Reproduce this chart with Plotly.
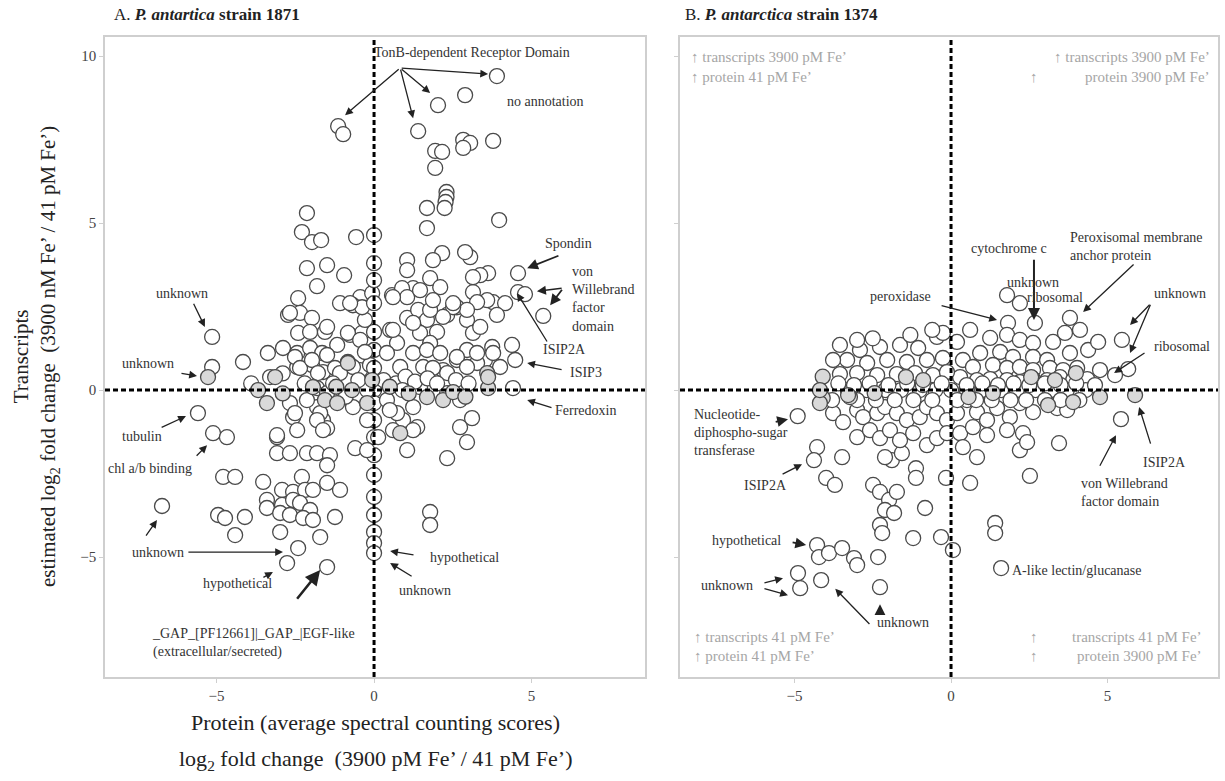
import plotly.graph_objects as go

# ---------------- data (log2 fold changes: protein x, transcripts y) ----------------
A_open_points = [
    (3.90, 9.40), (2.89, 8.83), (2.03, 8.53), (-1.14, 7.90), (-0.98, 7.66), (1.40, 7.75),
    (1.94, 7.16), (2.16, 7.13), (1.94, 6.65), (2.83, 7.49), (3.05, 7.40), (2.83, 7.25), (3.78, 7.46),
    (2.30, 5.93), (2.30, 5.78), (2.27, 5.63), (2.24, 5.45), (1.68, 5.45), (1.68, 4.85), (3.97, 5.09),
    (4.57, 3.50), (4.57, 2.93), (4.79, 2.87), (5.37, 2.22), (4.38, 1.35), (4.48, 0.90), (4.41, 0.06),
    (3.52, 0.90), (3.75, 1.29), (3.14, 2.93), (3.62, 3.50), (3.37, 3.44), (3.05, 3.98), (2.89, 4.13),
    (3.78, 2.63), (4.16, 2.60), (3.59, 2.69), (3.27, 2.63), (2.16, 4.10), (1.87, 3.89), (1.05, 3.89), (1.05, 3.59),
    (-2.13, 5.30), (-2.29, 4.73), (-1.97, 4.43), (-1.68, 4.49), (-0.57, 4.58), (-2.13, 3.65), (-1.49, 3.74),
    (-0.95, 3.44), (-1.81, 3.11), (1.24, 3.05), (-2.41, 2.75), (-1.08, 2.60), (-0.44, 2.78), (-0.06, 2.90),
    (0.57, 2.84), (0.89, 3.05), (3.14, 3.38), (1.78, 3.35), (2.10, 3.08),
    (-5.14, 1.59), (-5.14, 0.69), (-4.16, 0.84), (-3.37, 1.11),
    (-2.73, 2.25), (-2.35, 2.31), (-1.97, 2.16), (-2.41, 1.71), (-2.03, 1.74), (-1.56, 1.74), (-2.89, 1.26),
    (-2.44, 1.11), (-2.03, 1.26), (-1.65, 1.11), (-1.17, 1.35), (-0.76, 1.65), (-0.38, 1.71), (-0.29, 2.10),
    (-2.44, 0.69), (-1.97, 0.75), (-1.62, 0.54), (-1.24, 0.66), (-0.83, 0.84), (-0.44, 0.60), (-0.13, 0.75),
    (-0.67, 2.54), (-0.38, 2.48),
    (0.51, 1.80), (1.05, 2.16), (1.40, 2.40), (1.68, 2.10), (2.00, 1.74), (2.32, 2.25), (2.63, 2.48),
    (2.95, 2.10), (3.14, 1.71), (1.46, 1.71), (1.78, 1.41), (1.24, 1.11), (0.83, 0.69), (1.56, 0.69),
    (2.19, 0.60), (2.63, 0.90), (2.95, 1.20), (3.27, 0.81), (0.73, 1.41),
    (0, 4.64), (0, 3.80), (0, 3.29), (0, 2.60), (0, 1.74), (0, 1.20), (0, 0.66), (0, 0.0), (0, -0.39),
    (0, -0.90), (0, -1.41), (0, -1.95), (0, -2.54), (0, -3.20), (0, -3.74), (0, -4.25), (0, -4.58), (0, -4.88),
    (-5.59, -0.69), (-5.11, -1.29), (-4.67, -1.41), (-4.79, -2.60), (-4.41, -2.60), (-6.73, -3.47),
    (-4.95, -3.74), (-4.73, -3.83), (-4.10, -3.80), (-4.41, -4.34), (-3.08, -1.41), (-2.57, -0.81),
    (-2.44, -1.20), (-1.81, -0.51), (-1.62, -0.90), (-1.49, -1.14), (-3.08, -1.89), (-2.67, -1.89),
    (-2.13, -1.89), (-1.81, -1.89), (-1.40, -1.95), (-1.49, -2.25), (-0.60, -1.74), (-0.22, -1.80),
    (0.13, -1.41), (-3.52, -2.75), (-2.92, -2.99), (-2.57, -3.05), (-2.29, -2.60), (-2.19, -2.99),
    (-1.94, -2.99), (-1.49, -2.78), (-1.08, -2.99), (-3.40, -3.29), (-2.92, -3.44), (-2.57, -3.29),
    (-2.35, -3.38), (-2.03, -3.59), (-3.40, -3.53), (-2.98, -3.68), (-2.67, -3.74), (-2.25, -3.83),
    (-1.94, -3.89), (-1.24, -3.80), (-2.98, -4.25), (-1.71, -4.40), (-2.41, -4.73), (-2.76, -5.18),
    (-1.49, -5.30), (0.92, -0.90), (1.37, -1.11), (1.05, -1.80), (2.32, -2.04), (2.73, -1.11),
    (3.11, -0.84), (2.95, -1.56), (1.78, -3.65), (1.78, -4.04),
    (-2.67, -0.39), (-2.51, -0.69), (-2.13, -0.30), (-1.81, 0.06), (-1.71, -0.69), (-1.49, -0.09),
    (-0.67, -0.51), (-0.22, 0.0), (0.41, -0.30), (0.73, -0.69), (1.24, -0.51), (1.46, 0.09),
    (2.32, -0.09), (2.73, -0.30), (-3.08, -1.35), (-1.81, -0.90), (-1.62, -1.20), (-0.22, -0.90),
    (0.60, -1.20), (1.24, -1.20), (-3.30, 0.39), (-2.51, 0.99), (-2.35, 0.66), (-1.97, 0.90),
    (-1.49, 1.05), (-0.83, 1.71), (-0.44, 1.50), (-0.67, 0.69), (-1.08, 0.51), (-1.78, 0.51),
    (-0.29, 1.14), (0.41, 1.11), (0.60, 1.80), (1.68, 1.20), (1.87, 0.66), (2.10, 1.11), (2.32, 0.51),
    (2.63, 0.99), (2.95, 0.69), (3.27, 1.11), (3.37, 1.89), (2.95, 2.40), (2.51, 2.48), (2.19, 2.19),
    (1.78, 2.40), (1.24, 2.01), (1.05, 2.78), (0.60, 2.78), (1.46, 2.99), (1.87, 2.69), (2.51, 2.60),
    (3.90, 2.25), (3.78, 1.11), (4.00, 0.69), (-0.76, 2.60), (-1.49, 1.89), (-2.67, 2.31),
    (0.30, 0.30), (0.70, 0.20), (1.00, 0.40), (1.30, 0.25), (1.70, 0.35), (2.00, 0.20), (2.60, 0.30),
    (3.00, 0.20), (0.50, -0.60), (0.90, 0.00), (-3.90, 0.20), (-2.90, 0.50), (-2.20, 0.20),
    (-1.30, 0.20), (-0.90, -0.20), (-0.50, 0.30),
]
A_gray_points = [
    (-5.27, 0.39), (-3.68, 0.0), (-3.14, 0.39), (-3.40, -0.39), (-1.94, 0.09), (-1.56, -0.30),
    (-1.17, -0.39), (-0.83, 0.81), (-0.70, 0.0), (-0.22, -0.39), (-0.06, 0.30), (0.83, -1.29),
    (1.68, -0.21), (2.19, -0.30), (2.51, -0.06), (3.59, 0.51), (3.62, 0.06), (3.62, 0.39),
    (-2.90, -0.10), (-1.20, 0.10), (1.10, -0.10), (2.90, -0.20), (0.50, 0.10),
]

B_open_points = [
    (-4.90, -0.78), (-4.28, -1.71), (-4.38, -2.10), (-3.48, -2.01), (-3.99, -2.63), (-3.71, -2.84),
    (-2.49, -2.84), (-2.27, -3.05), (-1.98, -3.29), (-1.73, -3.05), (-2.11, -3.59), (-1.82, -3.68),
    (-2.27, -4.04), (-2.20, -4.28), (-1.12, -2.34), (-1.12, -2.63), (-1.89, -2.10), (-1.57, -1.89),
    (-0.16, -2.63), (-0.83, -3.53), (-1.21, -4.43), (-0.32, -4.40), (0.06, -4.79), (0.61, -2.78),
    (1.41, -3.98), (1.41, -4.28), (1.60, -5.33), (2.52, -2.57), (3.45, -1.59), (5.43, -0.87),
    (-4.28, -4.64), (-4.22, -5.00), (-3.90, -4.88), (-3.48, -4.73), (-3.10, -5.03), (-3.00, -5.24),
    (-2.33, -5.00), (-4.89, -5.48), (-4.82, -5.93), (-4.15, -5.69), (-2.27, -5.90),
    (1.82, 2.01), (2.68, 2.01), (1.79, 2.84), (2.20, 2.60), (3.80, 2.16), (4.12, 1.80), (3.64, 1.71),
    (3.26, 1.44), (4.38, 1.20), (4.70, 1.44), (5.46, 1.50), (5.66, 0.63), (5.24, 0.45), (4.76, 0.60),
    (3.80, 1.11), (0.61, 1.80), (1.25, 1.56), (1.79, 1.65), (2.20, 1.50), (2.62, 1.41), (0.93, 1.11),
    (1.57, 1.14), (1.98, 0.99), (2.62, 0.99), (3.07, 0.90), (0.38, 0.90), (0.70, 0.69), (1.34, 0.75),
    (1.79, 0.66), (2.20, 0.69), (2.62, 0.60), (3.16, 0.66), (3.58, 0.60), (4.03, 0.66),
    (0.29, 0.39), (0.83, 0.30), (1.25, 0.33), (1.79, 0.30), (2.20, 0.24), (2.62, 0.33), (3.07, 0.30),
    (3.48, 0.39), (3.90, 0.30), (4.35, 0.33),
    (-3.55, 1.35), (-2.91, 1.20), (-2.27, 1.29), (-1.63, 1.35), (-1.05, 1.26), (-0.45, 1.59),
    (-0.26, 1.71), (0.19, 1.44), (-3.32, 0.90), (-2.68, 0.81), (-2.04, 0.90), (-1.41, 0.84),
    (-0.77, 0.90), (-0.26, 0.96), (-3.77, 0.90), (-3.55, 0.48), (-3.00, 0.51), (-2.36, 0.45),
    (-1.73, 0.48), (-1.15, 0.51), (-0.58, 0.45), (-0.13, 0.54), (-0.60, 1.80), (-1.30, 1.65),
    (-2.50, 1.55), (-3.00, 1.50),
    (-3.77, -0.69), (-3.45, -0.96), (-3.00, -0.60), (-2.81, -0.81), (-2.36, -0.69), (-2.11, -0.51),
    (-1.73, -0.69), (-1.41, -0.90), (-1.00, -0.81), (-0.77, -0.51), (-0.45, -0.69), (-0.13, -0.90),
    (-3.00, -1.41), (-2.59, -1.20), (-2.27, -1.44), (-1.95, -1.20), (-1.63, -1.50), (-1.21, -1.29),
    (-0.77, -1.65), (-0.45, -1.44), (-0.13, -1.29), (-2.11, -2.01),
    (0.19, -0.69), (0.51, -0.30), (0.83, -0.66), (1.15, -0.90), (1.47, -0.54), (1.88, -0.81),
    (2.20, -0.39), (2.62, -0.66), (3.39, -0.54), (3.71, -0.60), (0.29, -1.29), (0.70, -1.11),
    (1.15, -1.35), (1.79, -1.20), (2.30, -1.29), (2.20, -1.80), (2.43, -1.56), (0.38, -1.71), (0.83, -2.01),
    (-3.30, 0.0), (-2.70, 0.0), (-2.10, 0.0), (-1.60, 0.0), (-1.00, 0.0), (-0.50, 0.0), (0.00, 0.0),
    (0.50, 0.0), (1.00, 0.0), (1.60, 0.0), (2.10, 0.0), (2.70, 0.0), (3.20, 0.0), (3.70, 0.0), (4.30, 0.0),
    (-3.80, -0.30), (-3.00, -0.30), (-2.40, -0.30), (-1.80, -0.30), (-1.20, -0.30), (-0.60, -0.30),
    (0.20, -0.30), (0.80, -0.30), (1.30, -0.30), (1.90, -0.30), (2.40, -0.30), (3.00, -0.30),
    (3.50, -0.30), (4.10, -0.30),
    (-3.60, 0.20), (-3.10, 0.15), (-2.60, 0.20), (-2.00, 0.15), (-1.40, 0.20), (-0.90, 0.15),
    (-0.30, 0.20), (0.50, 0.15), (1.00, 0.20), (1.50, 0.15), (2.00, 0.20), (2.50, 0.15), (3.00, 0.20),
    (3.50, 0.15), (4.00, 0.20), (4.60, 0.15),
]
B_gray_points = [
    (-4.10, 0.40), (-4.10, -0.24), (-3.23, -0.21), (-2.44, -0.09), (-1.44, 0.39), (-0.89, 0.30),
    (0.56, -0.21), (1.34, -0.09), (2.56, 0.39), (3.32, 0.30), (3.99, 0.51), (4.76, -0.21),
    (5.88, -0.15), (3.10, -0.45), (-4.19, -0.39), (-3.29, -0.15), (3.90, -0.36), (-4.19, 0.0),
]

x_ticks = [-5, 0, 5]
y_ticks = [-5, 0, 5, 10]
x_range_A = [-8.54, 8.60]
x_range_B = [-8.66, 8.53]
y_range = [-8.59, 10.57]

SERIF = "Liberation Serif, Times New Roman, serif"
W, H = 1225, 781

fig = go.Figure()


def add_points(pts, xa, ya, fill):
    fig.add_trace(go.Scatter(
        x=[p[0] for p in pts], y=[p[1] for p in pts], xaxis=xa, yaxis=ya,
        mode="markers", showlegend=False, hoverinfo="x+y",
        marker=dict(symbol="circle", size=15, color=fill,
                    line=dict(color="#4a4a4a", width=1.3)),
    ))


add_points(A_open_points, "x", "y", "white")
add_points(A_gray_points, "x", "y", "#d9d9d9")
add_points(B_open_points, "x2", "y2", "white")
add_points(B_gray_points, "x2", "y2", "#d9d9d9")

axis_common = dict(showgrid=False, zeroline=False, showline=True, mirror=True,
                   linecolor="#cfcfcf", linewidth=1.5, ticks="outside", ticklen=4,
                   tickcolor="#cfcfcf", tickfont=dict(family=SERIF, size=15, color="#444"))

fig.update_layout(
    width=W, height=H, margin=dict(l=0, r=0, t=0, b=0),
    paper_bgcolor="white", plot_bgcolor="white",
    xaxis=dict(domain=[105 / W, 645 / W], range=x_range_A, tickvals=x_ticks, anchor="y", **axis_common),
    yaxis=dict(domain=[1 - 677 / H, 1 - 37 / H], range=y_range, tickvals=y_ticks, anchor="x", **axis_common),
    xaxis2=dict(domain=[680 / W, 1218 / W], range=x_range_B, tickvals=x_ticks, anchor="y2", **axis_common),
    yaxis2=dict(domain=[1 - 677 / H, 1 - 37 / H], range=y_range, tickvals=y_ticks, anchor="x2",
                showticklabels=False, **axis_common),
)

# dashed zero lines
for xr, yr in (("x", "y"), ("x2", "y2")):
    fig.add_shape(type="line", xref=xr, yref=yr + " domain", x0=0, x1=0, y0=0, y1=1,
                  line=dict(color="black", width=3, dash="5px,3px"))
    fig.add_shape(type="line", xref=xr + " domain", yref=yr, x0=0, x1=1, y0=0, y1=0,
                  line=dict(color="black", width=3, dash="5px,3px"))

ann = []


def label(xr, yr, x, y, text, xanchor="center", yanchor="middle", size=14, color="#333", align="center"):
    ann.append(dict(xref=xr, yref=yr, x=x, y=y, text=text, showarrow=False, xanchor=xanchor,
                    yanchor=yanchor, align=align, font=dict(family=SERIF, size=size, color=color)))


def arrow(xr, yr, tail, head, width=1.3, size=1.2):
    ann.append(dict(xref=xr, yref=yr, axref=xr, ayref=yr, x=head[0], y=head[1], ax=tail[0], ay=tail[1],
                    text="", showarrow=True, arrowhead=2, arrowsize=size, arrowwidth=width,
                    arrowcolor="#222"))


# ---- panel A labels ----
label("x", "y", 3.11, 10.12, "TonB-dependent Receptor Domain")
for h in [(-0.92, 8.23), (1.24, 8.14), (1.78, 8.89), (3.62, 9.46)]:
    arrow("x", "y", (0.83, 9.64), h)
label("x", "y", 4.16, 8.65, "no annotation", xanchor="left")
label("x", "y", 6.16, 4.40, "Spondin")
arrow("x", "y", (5.90, 4.04), (4.86, 3.65), width=1.8)
label("x", "y", 6.22, 3.83, "von<br>Willebrand<br>factor<br>domain", xanchor="left", yanchor="top", align="left")
arrow("x", "y", (6.0, 3.05), (5.17, 2.96), width=1.5)
arrow("x", "y", (6.0, 3.05), (5.59, 2.54), width=1.8)
label("x", "y", 6.06, 1.20, "ISIP2A")
arrow("x", "y", (5.52, 1.41), (4.54, 2.90))
label("x", "y", 6.16, 0.54, "ISIP3", xanchor="left")
arrow("x", "y", (6.0, 0.60), (4.86, 0.81))
label("x", "y", 6.70, -0.60, "Ferredoxin")
arrow("x", "y", (5.68, -0.54), (4.86, -0.30))
label("x", "y", -6.10, 2.90, "unknown")
arrow("x", "y", (-5.75, 2.63), (-5.37, 1.89))
label("x", "y", -7.17, 0.81, "unknown")
arrow("x", "y", (-6.16, 0.51), (-5.62, 0.42))
label("x", "y", -7.37, -1.38, "tubulin")
arrow("x", "y", (-6.79, -1.14), (-5.97, -0.78))
label("x", "y", -7.11, -2.34, "chl a/b binding")
arrow("x", "y", (-5.68, -2.01), (-5.30, -1.65))
label("x", "y", -6.86, -4.85, "unknown")
arrow("x", "y", (-7.27, -4.40), (-6.89, -3.89))
arrow("x", "y", (-5.94, -4.85), (-2.89, -4.85))
label("x", "y", -4.32, -5.78, "hypothetical")
arrow("x", "y", (-3.56, -5.63), (-3.21, -5.45))
label("x", "y", -7.11, -7.0, "_GAP_[PF12661]|_GAP_|EGF-like<br>(extracellular/secreted)",
      xanchor="left", yanchor="top", align="left")
arrow("x", "y", (-2.48, -6.29), (-1.71, -5.39), width=2.5)
label("x", "y", 1.71, -5.0, "hypothetical", xanchor="left")
arrow("x", "y", (1.30, -4.94), (0.51, -4.82))
label("x", "y", 1.62, -5.99, "unknown")
arrow("x", "y", (1.24, -5.60), (0.51, -5.18))

# ---- panel B labels ----
label("x2", "y2", -1.63, 2.81, "peroxidase")
arrow("x2", "y2", (-0.35, 2.54), (1.47, 2.10))
label("x2", "y2", 1.85, 4.25, "cytochrome c")
arrow("x2", "y2", (2.65, 3.95), (2.65, 2.10), width=2)
label("x2", "y2", 2.62, 3.23, "unknown")
label("x2", "y2", 3.32, 2.78, "ribosomal")
label("x2", "y2", 3.74, 4.85, "Peroxisomal membrane<br>anchor protein", xanchor="left", yanchor="top", align="left")
arrow("x2", "y2", (5.88, 3.80), (4.22, 2.34))
label("x2", "y2", 7.32, 2.90, "unknown")
arrow("x2", "y2", (6.39, 2.60), (5.72, 1.95))
arrow("x2", "y2", (6.39, 2.60), (5.72, 1.11))
label("x2", "y2", 7.38, 1.29, "ribosomal")
arrow("x2", "y2", (6.23, 1.14), (5.21, 0.51))
label("x2", "y2", -8.27, -0.45, "Nucleotide-<br>diphospho-sugar<br>transferase", xanchor="left", yanchor="top", align="left")
arrow("x2", "y2", (-5.65, -0.96), (-5.21, -0.87), width=1.8)
label("x2", "y2", -5.94, -2.87, "ISIP2A")
arrow("x2", "y2", (-5.43, -2.54), (-4.76, -2.22))
label("x2", "y2", -6.52, -4.49, "hypothetical")
arrow("x2", "y2", (-5.11, -4.55), (-4.63, -4.64), width=1.8)
label("x2", "y2", -7.16, -5.84, "unknown")
arrow("x2", "y2", (-6.01, -5.78), (-5.37, -5.63))
arrow("x2", "y2", (-6.01, -5.93), (-5.21, -6.14))
label("x2", "y2", -1.53, -6.95, "unknown")
arrow("x2", "y2", (-2.27, -6.74), (-2.27, -6.41), width=1.8)
arrow("x2", "y2", (-2.56, -7.05), (-3.70, -5.95))
label("x2", "y2", 1.88, -5.39, "A-like lectin/glucanase", xanchor="left")
label("x2", "y2", 4.09, -2.51, "von Willebrand<br>factor domain", xanchor="left", yanchor="top", align="left")
arrow("x2", "y2", (4.73, -2.31), (5.27, -1.35))
label("x2", "y2", 6.81, -2.16, "ISIP2A")
arrow("x2", "y2", (6.39, -1.65), (6.01, -0.51))

# ---- quadrant legends in panel B ----
QC = "#a6a6a6"
label("paper", "paper", 689 / W, 1 - 57 / H, "↑ transcripts 3900 pM Fe’", xanchor="left", size=15, color=QC)
label("paper", "paper", 689 / W, 1 - 77 / H, "↑ protein 41 pM Fe’", xanchor="left", size=15, color=QC)
label("paper", "paper", 1212 / W, 1 - 57 / H, "↑ transcripts 3900 pM Fe’", xanchor="right", size=15, color=QC)
label("paper", "paper", 1212 / W, 1 - 77 / H, "protein 3900 pM Fe’", xanchor="right", size=15, color=QC)
label("paper", "paper", 1034 / W, 1 - 77 / H, "↑", size=15, color=QC)
label("paper", "paper", 692 / W, 1 - 637 / H, "↑ transcripts 41 pM Fe’", xanchor="left", size=15, color=QC)
label("paper", "paper", 692 / W, 1 - 656 / H, "↑ protein 41 pM Fe’", xanchor="left", size=15, color=QC)
label("paper", "paper", 1204 / W, 1 - 637 / H, "transcripts 41 pM Fe’", xanchor="right", size=15, color=QC)
label("paper", "paper", 1204 / W, 1 - 656 / H, "protein 3900 pM Fe’", xanchor="right", size=15, color=QC)
label("paper", "paper", 1034 / W, 1 - 637 / H, "↑", size=15, color=QC)
label("paper", "paper", 1034 / W, 1 - 656 / H, "↑", size=15, color=QC)

# ---- panel titles ----
label("paper", "paper", 112 / W, 1 - 15 / H,
      "A. <b><i>P. antartica</i> strain 1871</b>", xanchor="left", size=17, color="#222")
label("paper", "paper", 683 / W, 1 - 15 / H,
      "B. <b><i>P. antarctica</i> strain 1374</b>", xanchor="left", size=17, color="#222")

# ---- axis titles ----
ann.append(dict(xref="paper", yref="paper", x=36 / W, y=1 - 357 / H, textangle=-90, showarrow=False,
                text="Transcripts<br>estimated log<sub>2</sub> fold change  (3900 nM Fe’ / 41 pM Fe’)",
                font=dict(family=SERIF, size=21, color="#222"), xanchor="center", yanchor="middle"))
label("paper", "paper", 375 / W, 1 - 722 / H, "Protein (average spectral counting scores)", size=22, color="#222")
label("paper", "paper", 375 / W, 1 - 760 / H, "log<sub>2</sub> fold change  (3900 pM Fe’ / 41 pM Fe’)",
      size=22, color="#222")

fig.update_layout(annotations=ann)
fig.write_html("out.html")
